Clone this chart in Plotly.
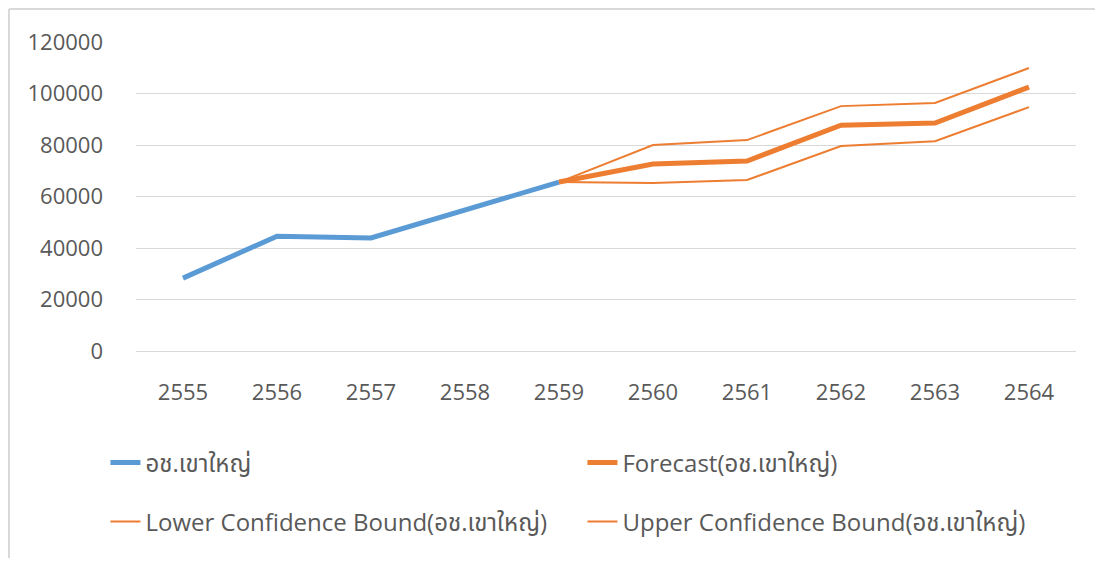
import plotly.graph_objects as go

years = ["2555", "2556", "2557", "2558", "2559", "2560", "2561", "2562", "2563", "2564"]

actual = [28300, 44600, 43900, 55000, 65600, None, None, None, None, None]
forecast = [None, None, None, None, 65600, 72600, 73800, 87700, 88500, 102500]
lower = [None, None, None, None, 65600, 65200, 66400, 79600, 81500, 94700]
upper = [None, None, None, None, 65600, 80000, 81900, 95100, 96300, 109900]

name = "อช.เขาใหญ่"
blue = "#5B9BD5"
orange = "#ED7D31"
grey_text = "#595959"
font = "'Open Sans', 'Noto Sans', 'Noto Sans Thai', sans-serif"

# page body adds an 8px margin, so the figure is a bit smaller than the window
W, H = 1087, 550
ml, mr, mt, mb = 128, 19, 34, 207
pw, ph = W - ml - mr, H - mt - mb

fig = go.Figure()

fig.add_trace(go.Scatter(x=years, y=actual, mode="lines", name=name,
                         line=dict(color=blue, width=5), legend="legend"))
fig.add_trace(go.Scatter(x=years, y=forecast, mode="lines", name=f"Forecast({name})",
                         line=dict(color=orange, width=5), legend="legend"))
fig.add_trace(go.Scatter(x=years, y=lower, mode="lines", name=f"Lower Confidence Bound({name})",
                         line=dict(color=orange, width=2), legend="legend2"))
fig.add_trace(go.Scatter(x=years, y=upper, mode="lines", name=f"Upper Confidence Bound({name})",
                         line=dict(color=orange, width=2), legend="legend2"))

legend_style = dict(
    orientation="h",
    xanchor="left",
    yanchor="middle",
    entrywidth=432,
    entrywidthmode="pixels",
    font=dict(size=24, color=grey_text, family=font),
    bgcolor="rgba(0,0,0,0)",
)

# chart frame: only top and left edges show in the original
fx0 = -(ml - 1) / pw
fy1 = (ph + mt - 1) / ph
fx1 = (pw + mr) / pw
fy0 = -mb / ph
frame = dict(color="#D9D9D9", width=2)

fig.update_layout(
    width=W,
    height=H,
    margin=dict(l=ml, r=mr, t=mt, b=mb),
    plot_bgcolor="white",
    paper_bgcolor="white",
    font=dict(family=font, size=22, color=grey_text),
    showlegend=True,
    legend=dict(x=-0.0325, y=-0.3625, **legend_style),
    legend2=dict(x=-0.0325, y=-0.553, **legend_style),
    xaxis=dict(showgrid=False, showline=False, ticks="", range=[-0.5, 9.5],
               ticklabelstandoff=26, tickfont=dict(size=22, color=grey_text)),
    yaxis=dict(range=[0, 120000], dtick=20000, showgrid=True, gridcolor="#D9D9D9",
               gridwidth=1, zeroline=True, zerolinecolor="#D9D9D9", zerolinewidth=1,
               showline=False, ticks="", ticklabelstandoff=32, tickformat="d",
               tickfont=dict(size=22, color=grey_text)),
    shapes=[
        dict(type="line", xref="paper", yref="paper", x0=fx0, x1=fx1, y0=fy1, y1=fy1,
             line=frame, layer="below"),
        dict(type="line", xref="paper", yref="paper", x0=fx0, x1=fx0, y0=fy0, y1=fy1,
             line=frame, layer="below"),
    ],
)

fig.write_html("out.html")
